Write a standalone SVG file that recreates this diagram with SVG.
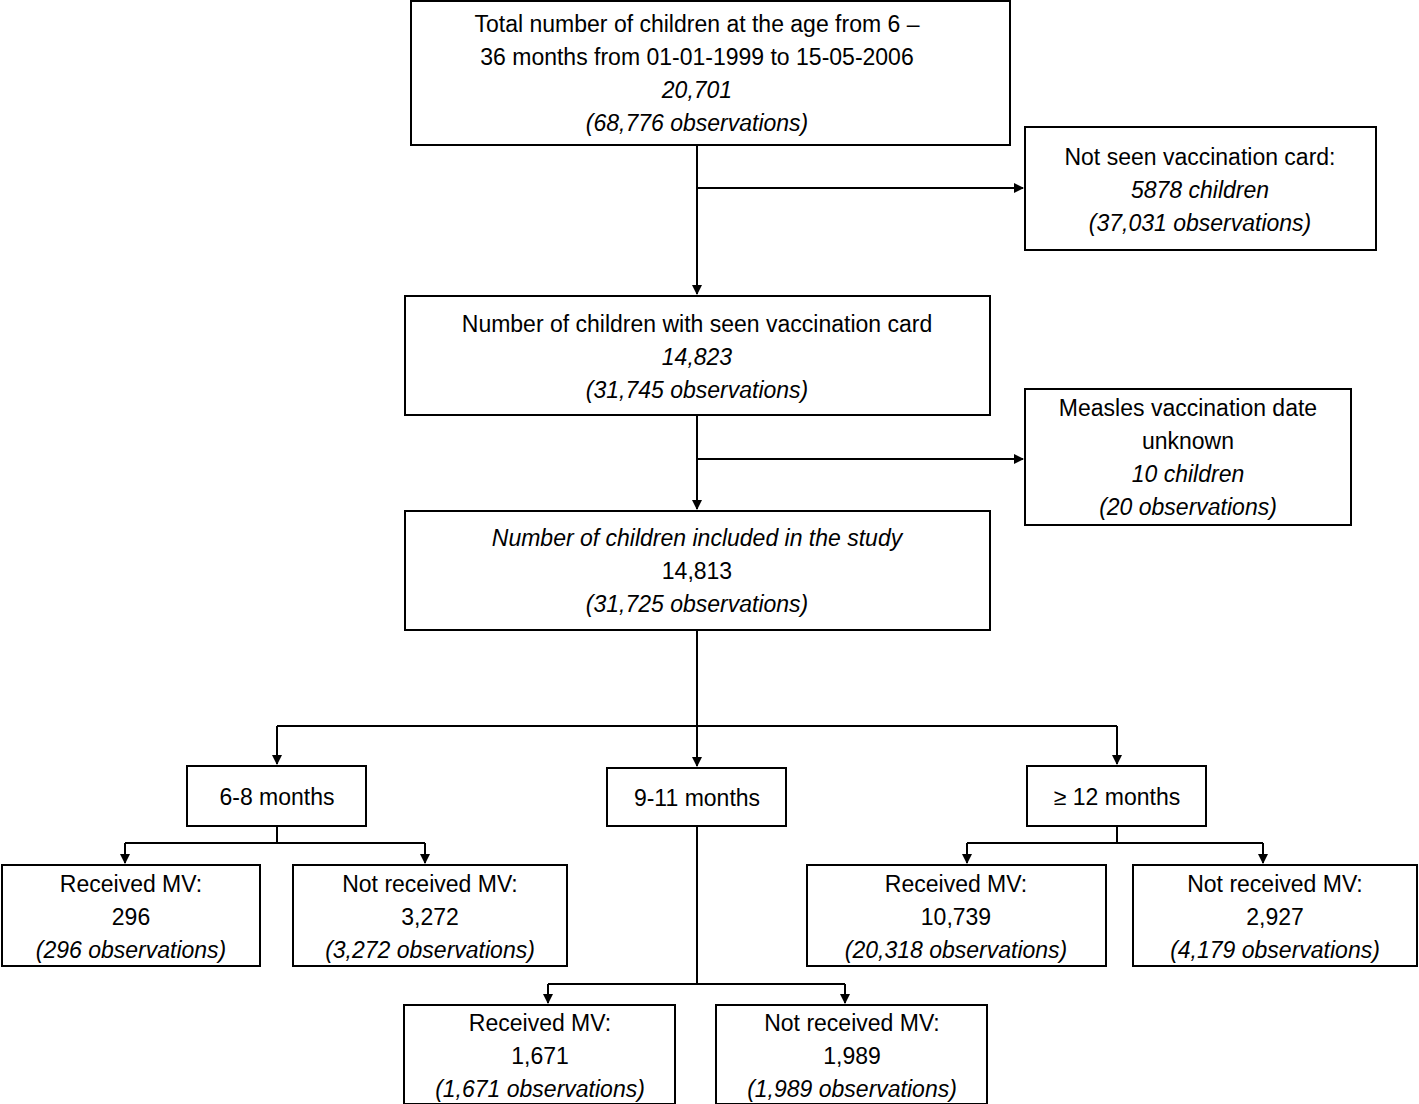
<svg xmlns="http://www.w3.org/2000/svg" width="1419" height="1104" viewBox="0 0 1419 1104">
<style>
rect{fill:#fff;stroke:#000;stroke-width:2}
text{font-family:"Liberation Sans",Arial,sans-serif;font-size:23px;text-anchor:middle;fill:#000}
.i{font-style:italic}
.c{stroke:#000;stroke-width:2;fill:none}
</style>
<defs><marker id="a" markerWidth="10" markerHeight="10" refX="9" refY="5" orient="auto" markerUnits="userSpaceOnUse"><path d="M0,0L10,5L0,10z" fill="#000"/></marker></defs>
<g id="connectors">
<path class="c" d="M697,145V294" marker-end="url(#a)"/>
<path class="c" d="M697,188H1023" marker-end="url(#a)"/>
<path class="c" d="M697,415V509" marker-end="url(#a)"/>
<path class="c" d="M697,459H1023" marker-end="url(#a)"/>
<path class="c" d="M697,630V766" marker-end="url(#a)"/>
<path class="c" d="M277,726H1117"/>
<path class="c" d="M277,726V764" marker-end="url(#a)"/>
<path class="c" d="M1117,726V764" marker-end="url(#a)"/>
<path class="c" d="M277,826V843M125,843H425M125,843V863M425,843V863" marker-end="url(#a)"/>
<path class="c" d="M125,843V863" marker-end="url(#a)"/>
<path class="c" d="M1117,826V843M967,843H1263M1263,843V863" marker-end="url(#a)"/>
<path class="c" d="M967,843V863" marker-end="url(#a)"/>
<path class="c" d="M697,826V984M548,984H845M845,984V1003" marker-end="url(#a)"/>
<path class="c" d="M548,984V1003" marker-end="url(#a)"/>
</g>
<g id="n1"><rect x="411" y="1" width="599" height="144"/>
<text x="697" y="32">Total number of children at the age from  6 –</text>
<text x="697" y="65">36 months from 01-01-1999 to 15-05-2006</text>
<text x="697" y="98" class="i">20,701</text>
<text x="697" y="131" class="i">(68,776 observations)</text></g>
<g id="n2"><rect x="1025" y="127" width="351" height="123"/>
<text x="1200" y="165">Not seen vaccination card:</text>
<text x="1200" y="198" class="i">5878 children</text>
<text x="1200" y="231" class="i">(37,031 observations)</text></g>
<g id="n3"><rect x="405" y="296" width="585" height="119"/>
<text x="697" y="332">Number of children with seen vaccination card</text>
<text x="697" y="365" class="i">14,823</text>
<text x="697" y="398" class="i">(31,745 observations)</text></g>
<g id="n4"><rect x="1025" y="389" width="326" height="136"/>
<text x="1188" y="416">Measles vaccination date</text>
<text x="1188" y="449">unknown</text>
<text x="1188" y="482" class="i">10 children</text>
<text x="1188" y="515" class="i">(20 observations)</text></g>
<g id="n5"><rect x="405" y="511" width="585" height="119"/>
<text x="697" y="546" class="i">Number of children included in the study</text>
<text x="697" y="579">14,813</text>
<text x="697" y="612" class="i">(31,725 observations)</text></g>
<g id="n6"><rect x="187" y="766" width="179" height="60"/><text x="277" y="805">6-8 months</text></g>
<g id="n7"><rect x="607" y="768" width="179" height="58"/><text x="697" y="806">9-11 months</text></g>
<g id="n8"><rect x="1027" y="766" width="179" height="60"/><text x="1117" y="805">≥ 12 months</text></g>
<g id="n9"><rect x="2" y="865" width="258" height="101"/>
<text x="131" y="892">Received MV:</text><text x="131" y="925">296</text><text x="131" y="958" class="i">(296 observations)</text></g>
<g id="n10"><rect x="293" y="865" width="274" height="101"/>
<text x="430" y="892">Not received MV:</text><text x="430" y="925">3,272</text><text x="430" y="958" class="i">(3,272 observations)</text></g>
<g id="n11"><rect x="807" y="865" width="299" height="101"/>
<text x="956" y="892">Received MV:</text><text x="956" y="925">10,739</text><text x="956" y="958" class="i">(20,318 observations)</text></g>
<g id="n12"><rect x="1133" y="865" width="284" height="101"/>
<text x="1275" y="892">Not received MV:</text><text x="1275" y="925">2,927</text><text x="1275" y="958" class="i">(4,179 observations)</text></g>
<g id="n13"><rect x="404" y="1005" width="271" height="99"/>
<text x="540" y="1031">Received MV:</text><text x="540" y="1064">1,671</text><text x="540" y="1097" class="i">(1,671 observations)</text></g>
<g id="n14"><rect x="716" y="1005" width="271" height="99"/>
<text x="852" y="1031">Not received MV:</text><text x="852" y="1064">1,989</text><text x="852" y="1097" class="i">(1,989 observations)</text></g>
</svg>
